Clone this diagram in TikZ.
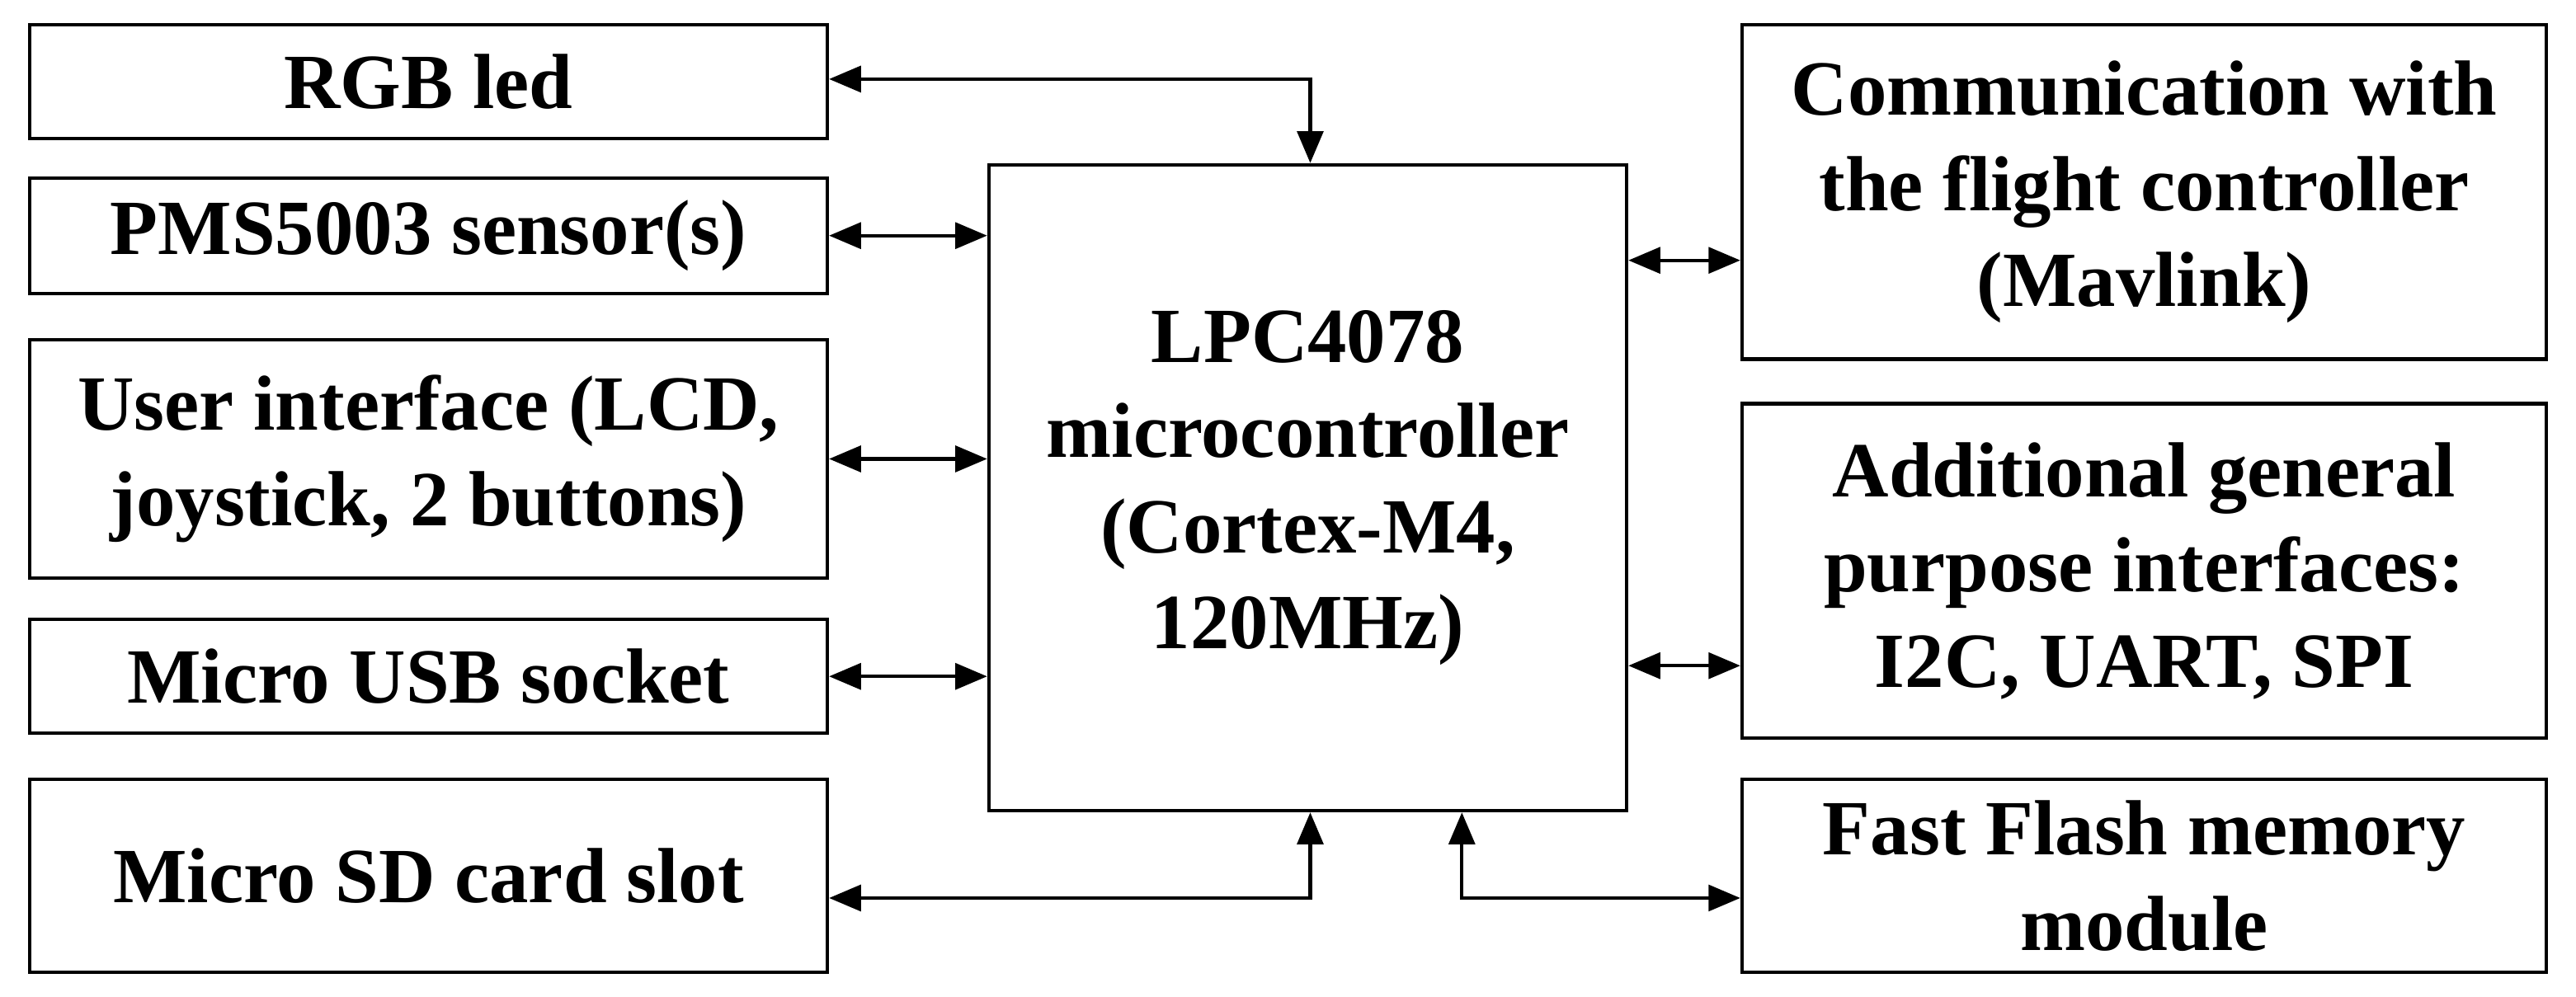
\documentclass[tikz,border=0pt]{standalone}
\usepackage{fontspec}
\setmainfont{Liberation Serif}
\usetikzlibrary{arrows.meta}
\begin{document}
\begin{tikzpicture}[x=0.02cm,y=-0.02cm,
 box/.style={draw,line width=1.2pt,inner sep=0pt,align=center,font=\fontsize{27}{33}\selectfont\bfseries},
 arr/.style={line width=1.2pt,{Triangle[length=11pt,width=9pt]}-{Triangle[length=11pt,width=9pt]}}]
\useasboundingbox (0,0) rectangle (1563,605);
\newcommand{\bx}[6]{\node[box,minimum width={(#4-#2)*0.02cm},minimum height={(#5-#3)*0.02cm}] (#1) at ({(#2+#4)/2},{(#3+#5)/2}) {#6};}
\bx{rgb}{18}{15}{502}{84}{RGB led}
\bx{pms}{18}{108}{502}{178}{PMS5003 sensor(s)}
\bx{ui}{18}{206}{502}{351}{User interface (LCD,\\joystick, 2 buttons)}
\bx{usb}{18}{376}{502}{445}{Micro USB socket}
\bx{sd}{18}{473}{502}{590}{Micro SD card slot}
\bx{mcu}{600}{100}{987}{492}{LPC4078\\microcontroller\\(Cortex-M4,\\120MHz)}
\bx{com}{1057}{15}{1545}{218}{Communication with\\the flight controller\\(Mavlink)}
\bx{add}{1057}{245}{1545}{448}{Additional general\\purpose interfaces:\\I2C, UART, SPI}
\bx{fl}{1057}{473}{1545}{590}{Fast Flash memory\\module}
\coordinate (c1) at (795,48);
\coordinate (c2) at (795,545);
\coordinate (c3) at (887,545);
\draw[arr] (rgb.east |- c1) -- (c1) -- (c1 |- mcu.north);
\draw[arr] (pms.east) -- (pms.east -| mcu.west);
\draw[arr] (ui.east) -- (ui.east -| mcu.west);
\draw[arr] (usb.east) -- (usb.east -| mcu.west);
\draw[arr] (sd.east |- c2) -- (c2) -- (c2 |- mcu.south);
\draw[arr] (mcu.east |- 0,158) -- (com.west |- 0,158);
\draw[arr] (mcu.east |- 0,404) -- (add.west |- 0,404);
\draw[arr] (fl.west |- c3) -- (c3) -- (c3 |- mcu.south);
\end{tikzpicture}
\end{document}
